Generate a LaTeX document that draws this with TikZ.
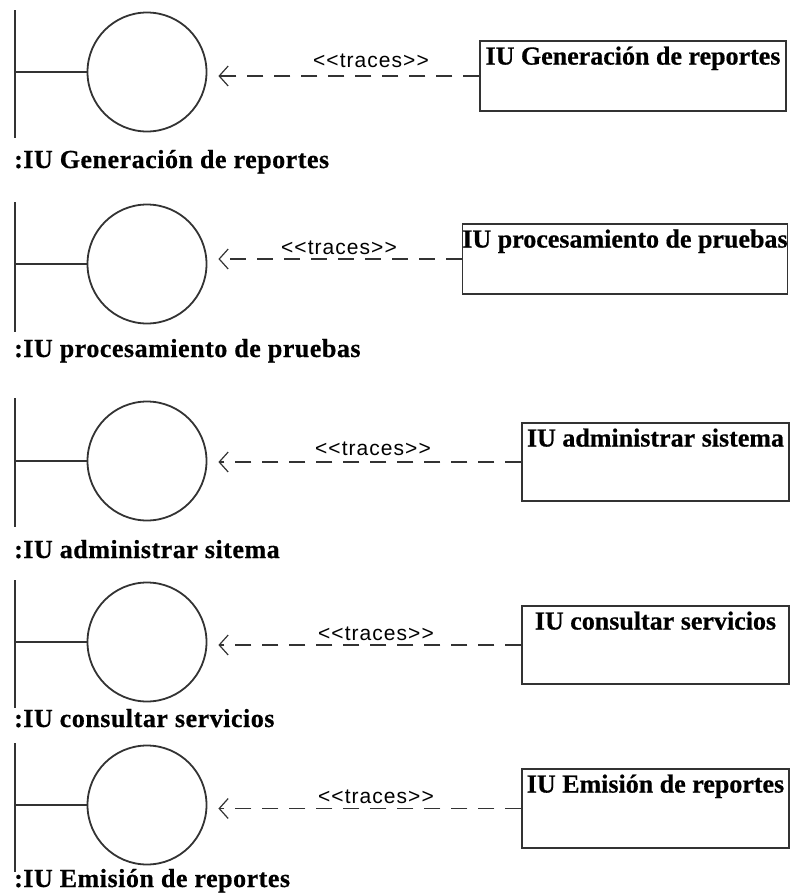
\documentclass[tikz,border=0pt]{standalone}
\usepackage{fontspec}
\setmainfont{Liberation Serif}
\setsansfont{Liberation Sans}
\usetikzlibrary{arrows.meta}

\begin{document}
\begin{tikzpicture}[x=1pt,y=-1pt,
  bnd/.style={draw=black!80, line width=1.8pt, circle, minimum size=119pt, inner sep=0pt},
  bndline/.style={draw=black!80, line width=1.4pt},
  clsbox/.style={draw=black!80, line width=1.4pt, rectangle, inner sep=0pt},
  clsname/.style={anchor=north, inner sep=0pt, yshift=-6pt, font=\fontsize{26}{30}\selectfont\bfseries\addfontfeature{FakeBold=0.6}},
  objname/.style={anchor=base west, inner sep=0pt, font=\fontsize{26}{30}\selectfont\bfseries\addfontfeature{LetterSpace=2,FakeBold=0.6}},
  stereo/.style={anchor=base, inner sep=0pt, font=\sffamily\fontsize{21}{24}\selectfont\addfontfeature{LetterSpace=5}},
  trace/.style={draw=black!80, line width=1.4pt, dash pattern=on 16pt off 11pt,
    -{Straight Barb[length=9pt,width=20pt,line width=1.2pt]}, shorten >=11pt}]
\useasboundingbox (0,0) rectangle (792,895);

\node[bnd] (c1) at (147,72) {};
\draw[bndline] (15,10) -- (15,138);
\draw[bndline] (15,72) -- (c1.west);
\node[objname] (o1) at (14,168) {:IU Generación de reportes};
\node[clsbox, minimum width=306pt, minimum height=70pt] (g1) at (633,76) {};
\node[clsname] (n1) at (g1.north) {IU Generación de reportes};
\node[stereo] (s1) at (371,67) {<{}<traces>{}>};
\draw[trace] (g1.west) -- (g1.west -| c1.east);

\node[bnd] (c2) at (147,264) {};
\draw[bndline] (15,202) -- (15,332);
\draw[bndline] (15,264) -- (c2.west);
\node[objname] (o2) at (14,357) {:IU procesamiento de pruebas};
\node[clsbox, minimum width=325pt, minimum height=70pt] (g2) at (625,259) {};
\node[clsname] (n2) at (g2.north) {IU procesamiento de pruebas};
\node[stereo] (s2) at (339,254) {<{}<traces>{}>};
\draw[trace] (g2.west) -- (g2.west -| c2.east);

\node[bnd] (c3) at (147,461) {};
\draw[bndline] (15,398) -- (15,527);
\draw[bndline] (15,461) -- (c3.west);
\node[objname] (o3) at (14,558) {:IU administrar sitema};
\node[clsbox, minimum width=267pt, minimum height=78pt] (g3) at (655.5,462) {};
\node[clsname] (n3) at (g3.north) {IU administrar sistema};
\node[stereo] (s3) at (373,455) {<{}<traces>{}>};
\draw[trace] (g3.west) -- (g3.west -| c3.east);

\node[bnd] (c4) at (147,642) {};
\draw[bndline] (15,580) -- (15,708);
\draw[bndline] (15,642) -- (c4.west);
\node[objname] (o4) at (14,727) {:IU consultar servicios};
\node[clsbox, minimum width=267pt, minimum height=78pt] (g4) at (655.5,645) {};
\node[clsname] (n4) at (g4.north) {IU consultar servicios};
\node[stereo] (s4) at (376,640) {<{}<traces>{}>};
\draw[trace] (g4.west) -- (g4.west -| c4.east);

\node[bnd] (c5) at (147,805) {};
\draw[bndline] (15,743) -- (15,872);
\draw[bndline] (15,805) -- (c5.west);
\node[objname] (o5) at (14,887) {:IU Emisión de reportes};
\node[clsbox, minimum width=267pt, minimum height=79pt] (g5) at (655.5,808.5) {};
\node[clsname] (n5) at (g5.north) {IU Emisión de reportes};
\node[stereo] (s5) at (376,803) {<{}<traces>{}>};
\draw[trace] (g5.west) -- (g5.west -| c5.east);
\end{tikzpicture}
\end{document}
